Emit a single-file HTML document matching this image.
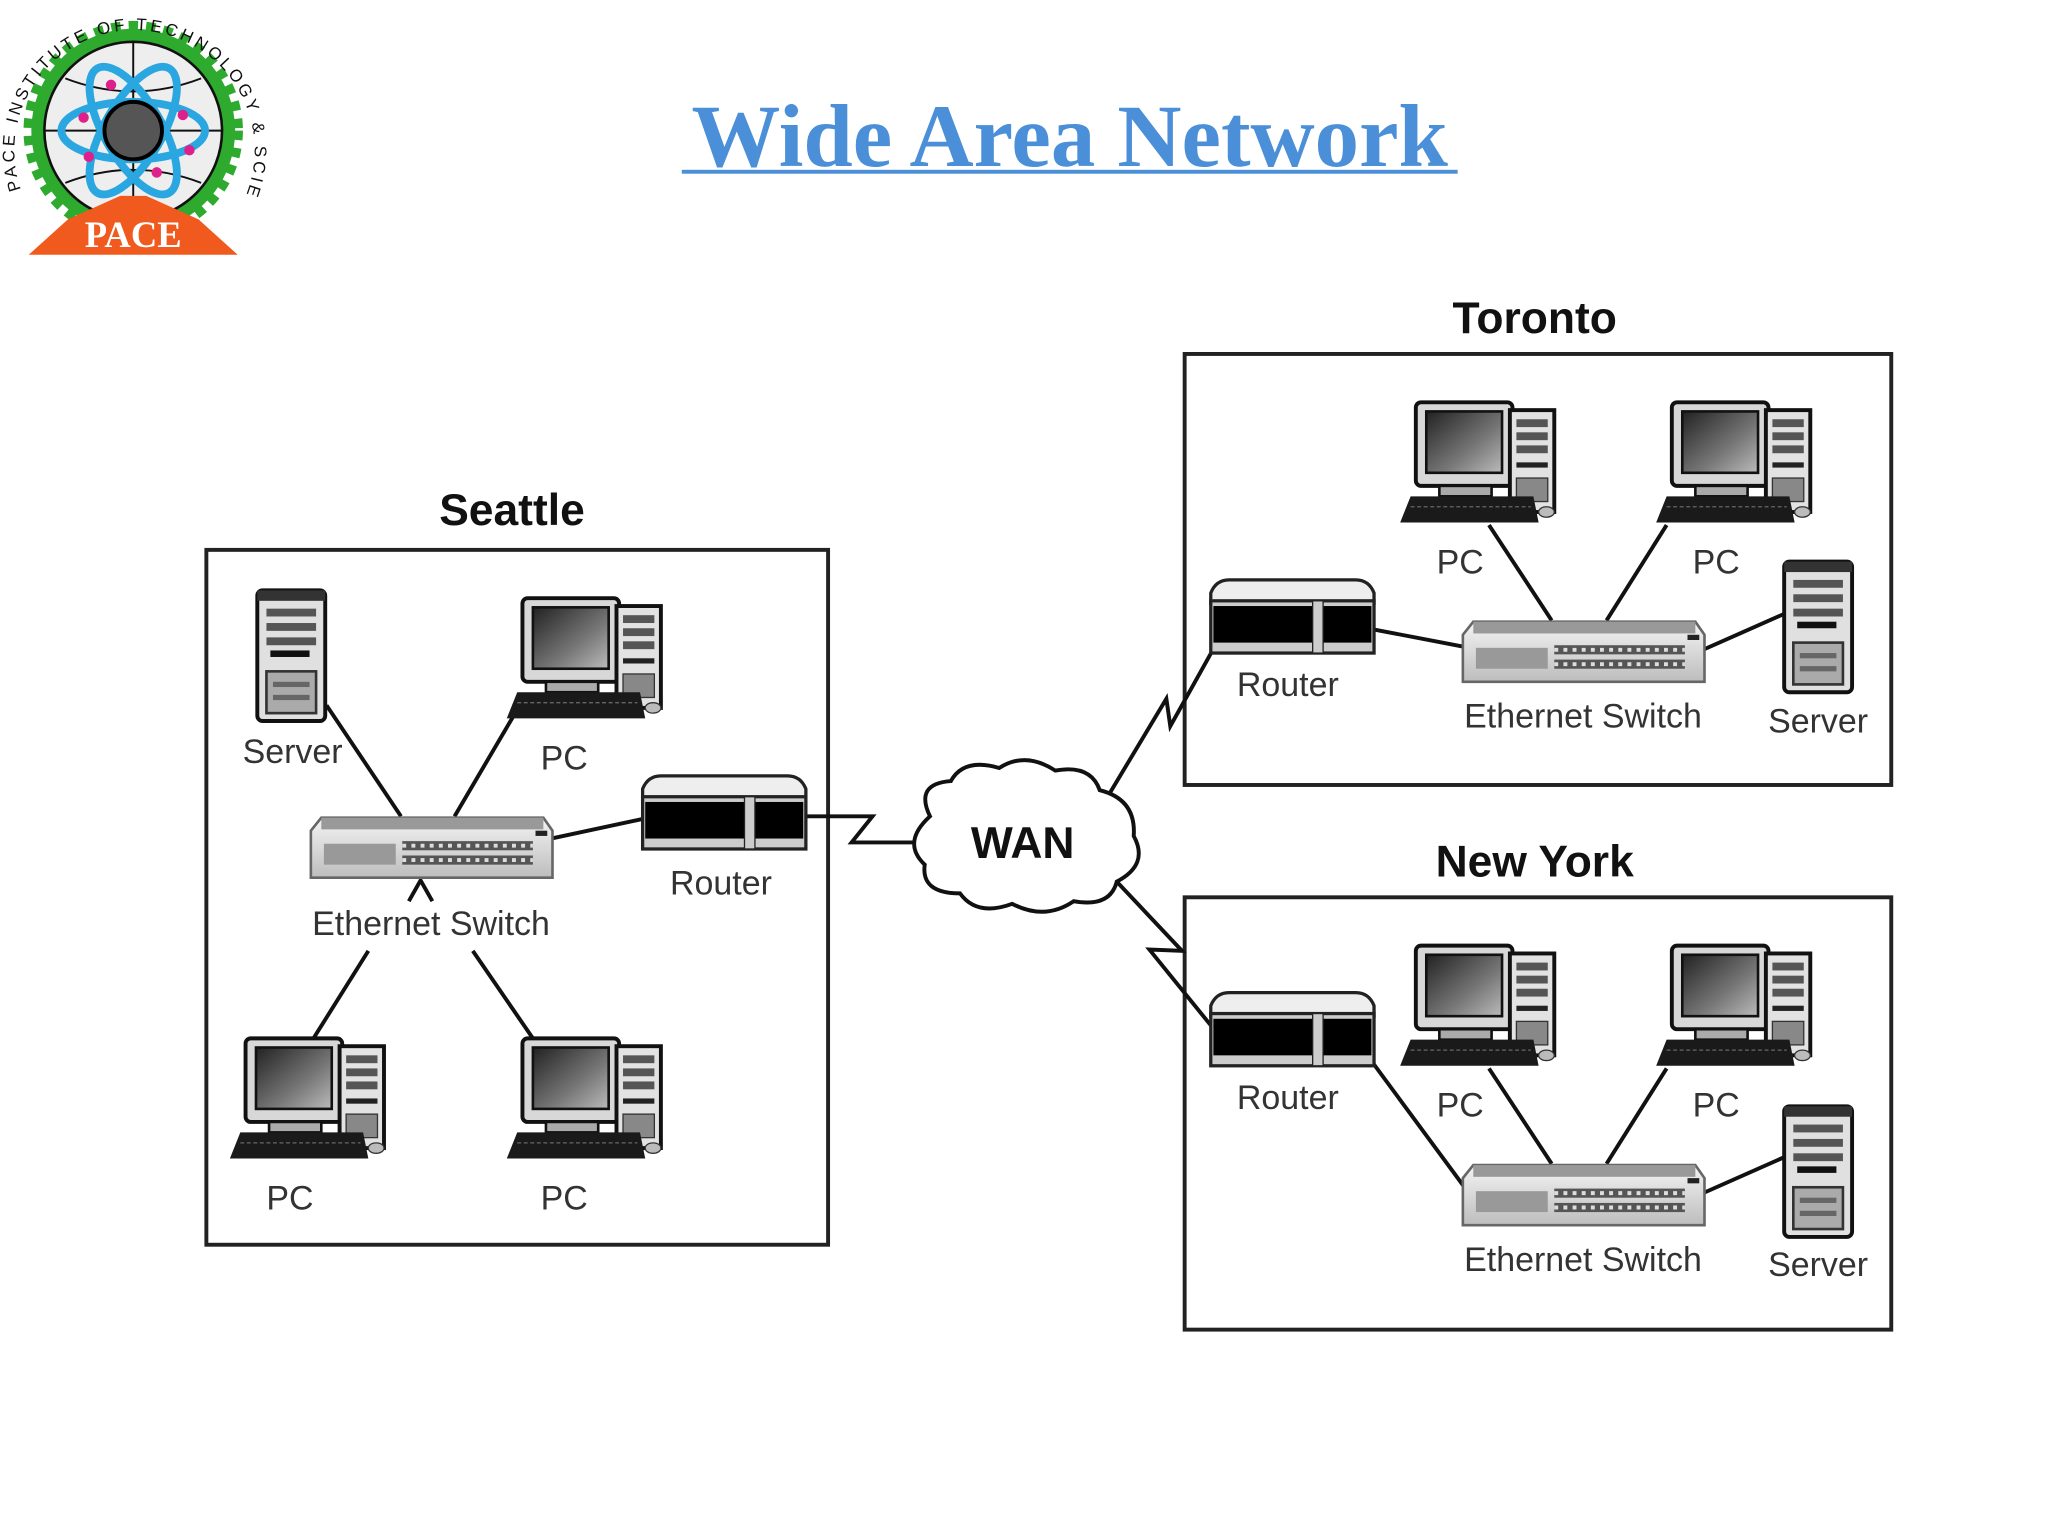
<!DOCTYPE html>
<html><head><meta charset="utf-8"><style>
html,body{margin:0;padding:0;background:#fff;}
svg{display:block;}
</style></head><body>
<svg width="2048" height="1536" viewBox="0 0 1568 1176" xmlns="http://www.w3.org/2000/svg">
<defs>
<linearGradient id="scr" x1="0" y1="0" x2="1" y2="1"><stop offset="0" stop-color="#222"/><stop offset="0.6" stop-color="#777"/><stop offset="1" stop-color="#bbb"/></linearGradient>
<linearGradient id="sw" x1="0" y1="0" x2="0" y2="1"><stop offset="0" stop-color="#f4f4f4"/><stop offset="1" stop-color="#bdbdbd"/></linearGradient>
<g id="pc">
  <rect x="12" y="0" width="74" height="64" rx="4" fill="#d8d8d8" stroke="#111" stroke-width="3"/>
  <rect x="20" y="7" width="58" height="47" fill="url(#scr)" stroke="#111" stroke-width="2"/>
  <rect x="30" y="64" width="40" height="8" fill="#aaa" stroke="#111" stroke-width="2"/>
  <rect x="84" y="6" width="34" height="78" fill="#e2e2e2" stroke="#111" stroke-width="3"/>
  <rect x="89" y="13" width="24" height="6" fill="#555"/>
  <rect x="89" y="23" width="24" height="6" fill="#555"/>
  <rect x="89" y="33" width="24" height="6" fill="#555"/>
  <rect x="89" y="46" width="24" height="4" fill="#222"/>
  <rect x="89" y="58" width="24" height="18" fill="#888" stroke="#333"/>
  <polygon points="8,72 102,72 106,92 0,92" fill="#1a1a1a"/>
  <line x1="8" y1="80" x2="100" y2="80" stroke="#666" stroke-dasharray="3 2"/>
  <ellipse cx="112" cy="84" rx="6" ry="4" fill="#bbb" stroke="#333"/>
</g>
<g id="server">
  <rect x="2" y="2" width="52" height="100" rx="4" fill="#e0e0e0" stroke="#111" stroke-width="3"/>
  <rect x="2" y="2" width="52" height="8" fill="#333"/>
  <rect x="9" y="16" width="38" height="6" fill="#555"/>
  <rect x="9" y="27" width="38" height="6" fill="#555"/>
  <rect x="9" y="38" width="38" height="6" fill="#555"/>
  <rect x="12" y="48" width="30" height="5" fill="#111"/>
  <rect x="9" y="64" width="38" height="32" fill="#aaa" stroke="#333" stroke-width="2"/>
  <rect x="14" y="72" width="28" height="4" fill="#666"/>
  <rect x="14" y="82" width="28" height="4" fill="#666"/>
</g>
<g id="router">
  <path d="M0,20 L0,12 Q4,2 14,2 L111,2 Q121,2 125,12 L125,20 Z" fill="#eee" stroke="#222" stroke-width="2.5"/>
  <rect x="0" y="18" width="125" height="40" fill="#ccc" stroke="#222" stroke-width="2.5"/>
  <rect x="2" y="22" width="121" height="28" fill="#000"/>
  <rect x="78" y="18" width="8" height="40" fill="#ccc" stroke="#222"/>
</g>
<g id="switch">
  <polygon points="8,0 178,0 185,10 185,46 0,46 0,10" fill="url(#sw)" stroke="#666" stroke-width="2"/>
  <rect x="8" y="0" width="170" height="9" fill="#999"/>
  <rect x="10" y="20" width="55" height="16" fill="#999"/>
  <rect x="70" y="18" width="100" height="7" fill="#555"/>
  <rect x="70" y="29" width="100" height="7" fill="#555"/>
  <line x1="70" y1="21.5" x2="170" y2="21.5" stroke="#ddd" stroke-width="3" stroke-dasharray="3 4"/>
  <line x1="70" y1="32.5" x2="170" y2="32.5" stroke="#ddd" stroke-width="3" stroke-dasharray="3 4"/>
  <rect x="172" y="10" width="9" height="4" fill="#222"/>
</g>
</defs>

<!-- logo -->
<g>
  <circle cx="102" cy="100" r="78" fill="#2eaa2e"/>
  <circle cx="102" cy="100" r="78" fill="none" stroke="#2eaa2e" stroke-width="12" stroke-dasharray="7 6"/>
  <circle cx="102" cy="100" r="68" fill="#eee" stroke="#111" stroke-width="2"/>
  <path d="M34,100 H170 M102,32 V168 M50,60 Q102,80 154,60 M50,140 Q102,120 154,140" fill="none" stroke="#111" stroke-width="1.5"/>
  <ellipse cx="102" cy="100" rx="55" ry="22" fill="none" stroke="#2aa6e0" stroke-width="6"/>
  <ellipse cx="102" cy="100" rx="55" ry="22" fill="none" stroke="#2aa6e0" stroke-width="6" transform="rotate(60 102 100)"/>
  <ellipse cx="102" cy="100" rx="55" ry="22" fill="none" stroke="#2aa6e0" stroke-width="6" transform="rotate(-60 102 100)"/>
  <circle cx="102" cy="100" r="22" fill="#555" stroke="#000" stroke-width="3"/>
  <circle cx="64" cy="90" r="4" fill="#e0208a"/><circle cx="140" cy="88" r="4" fill="#e0208a"/>
  <circle cx="85" cy="65" r="4" fill="#e0208a"/><circle cx="120" cy="132" r="4" fill="#e0208a"/>
  <circle cx="68" cy="120" r="4" fill="#e0208a"/><circle cx="145" cy="115" r="4" fill="#e0208a"/>
  <polygon points="22,195 182,195 152,168 112,150 92,150 52,168" fill="#f05a1e"/>
  <text x="102" y="189" text-anchor="middle" font-family="Liberation Serif, serif" font-weight="bold" font-size="28" fill="#fff">PACE</text>
  <path id="arc" d="M16,145 A92,92 0 1 1 190,145" fill="none"/>
  <text font-family="Liberation Sans, sans-serif" font-size="13" fill="#111"><textPath href="#arc" textLength="400" lengthAdjust="spacing">PACE INSTITUTE OF TECHNOLOGY &amp; SCIENCES</textPath></text>
</g>

<!-- title -->
<text x="819" y="127" text-anchor="middle" font-family="Liberation Serif, serif" font-weight="bold" font-size="68" fill="#4a8fd8">Wide Area Network</text>
<rect x="522" y="130" width="594" height="3" fill="#4a8fd8"/>

<g font-family="Liberation Sans, sans-serif" fill="#111">
<text x="392" y="402" text-anchor="middle" font-weight="bold" font-size="34">Seattle</text>
<text x="1175" y="255" text-anchor="middle" font-weight="bold" font-size="34">Toronto</text>
<text x="1175" y="671" text-anchor="middle" font-weight="bold" font-size="34">New York</text>
</g>

<g fill="none" stroke="#222" stroke-width="3">
<rect x="158" y="421" width="476" height="532"/>
<rect x="907" y="271" width="541" height="330"/>
<rect x="907" y="687" width="541" height="331"/>
</g>

<!-- connectors -->
<g stroke="#111" stroke-width="3" fill="none">
<line x1="250" y1="540" x2="307" y2="625"/>
<line x1="395" y1="545" x2="348" y2="625"/>
<line x1="492" y1="627" x2="422" y2="642"/>
<line x1="282" y1="728" x2="240" y2="795"/>
<line x1="362" y1="728" x2="408" y2="795"/>
<polyline points="313,690 322,674 331,690"/>
<polyline points="617,625 668,625 652,645 700,645"/>
<polyline points="848,610 893,535 896,556 930,495"/>
<polyline points="855,675 905,728 880,727 927,785"/>
<line x1="1052" y1="482" x2="1120" y2="495"/>
<line x1="1140" y1="402" x2="1188" y2="475"/>
<line x1="1276" y1="402" x2="1230" y2="475"/>
<line x1="1366" y1="470" x2="1305" y2="497"/>
<line x1="1052" y1="815" x2="1122" y2="910"/>
<line x1="1140" y1="818" x2="1188" y2="891"/>
<line x1="1276" y1="818" x2="1230" y2="891"/>
<line x1="1366" y1="886" x2="1305" y2="913"/>
</g>

<!-- cloud -->
<path d="M712,625 Q700,600 728,598 Q738,580 765,588 Q785,575 808,590 Q835,585 842,605 Q870,612 868,640 Q880,662 855,675 Q850,695 822,690 Q800,705 775,692 Q748,702 735,684 Q705,684 708,662 Q690,645 712,625 Z" fill="#fff" stroke="#111" stroke-width="3"/>
<text x="783" y="657" text-anchor="middle" font-family="Liberation Sans, sans-serif" font-weight="bold" font-size="34" fill="#111">WAN</text>

<!-- Seattle devices -->
<use href="#server" x="195" y="450"/>
<use href="#pc" x="388" y="458"/>
<use href="#switch" x="238" y="626"/>
<use href="#router" x="492" y="592"/>
<use href="#pc" x="176" y="795"/>
<use href="#pc" x="388" y="795"/>

<!-- Toronto -->
<use href="#pc" x="1072" y="308"/>
<use href="#pc" x="1268" y="308"/>
<use href="#router" x="927" y="442"/>
<use href="#switch" x="1120" y="476"/>
<use href="#server" x="1364" y="428"/>

<!-- New York -->
<use href="#pc" x="1072" y="724"/>
<use href="#pc" x="1268" y="724"/>
<use href="#router" x="927" y="758"/>
<use href="#switch" x="1120" y="892"/>
<use href="#server" x="1364" y="845"/>

<g font-family="Liberation Sans, sans-serif" font-size="26" fill="#333" text-anchor="middle">
<text x="224" y="584">Server</text>
<text x="432" y="589">PC</text>
<text x="330" y="716">Ethernet Switch</text>
<text x="552" y="685">Router</text>
<text x="222" y="926">PC</text>
<text x="432" y="926">PC</text>
<text x="1118" y="439">PC</text>
<text x="1314" y="439">PC</text>
<text x="986" y="533">Router</text>
<text x="1212" y="557">Ethernet Switch</text>
<text x="1392" y="561">Server</text>
<text x="1118" y="855">PC</text>
<text x="1314" y="855">PC</text>
<text x="986" y="849">Router</text>
<text x="1212" y="973">Ethernet Switch</text>
<text x="1392" y="977">Server</text>
</g>
</svg>
</body></html>
